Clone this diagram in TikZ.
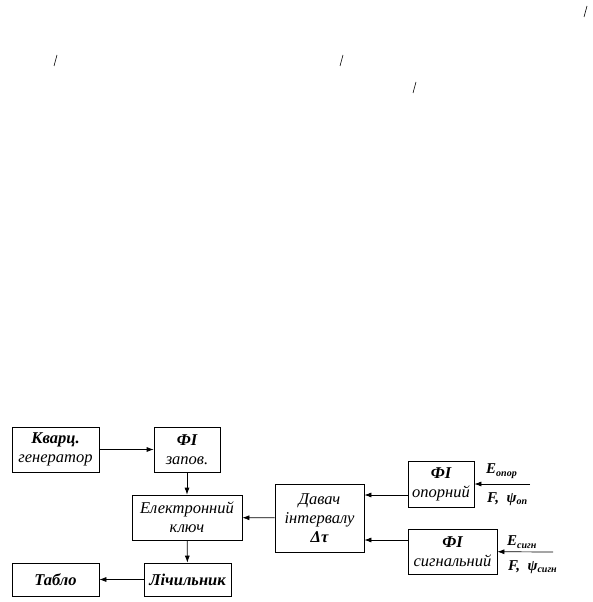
\documentclass[tikz,border=0pt]{standalone}
\usepackage{fontspec}
\setmainfont{Liberation Serif}
\usetikzlibrary{arrows.meta}
\newcommand{\lowsub}[1]{\raisebox{-2.5pt}{\fontsize{10}{11}\selectfont #1}}
\begin{document}
\begin{tikzpicture}[
    x=1pt, y=-1pt, >={Latex[length=7pt,width=5pt]},
    blk/.style={draw, line width=0.7pt, align=center, inner sep=1pt,
                font=\fontsize{16.5}{19}\selectfont\itshape},
    lbl/.style={anchor=west, inner sep=0pt, font=\fontsize{15}{17}\selectfont\bfseries\itshape},
    link/.style={->, line width=0.7pt}]
  \useasboundingbox (0,0) rectangle (592,602);
  % stray marks at the top of the page
  \draw[line width=0.6pt] (54,66) -- (57,55);
  \draw[line width=0.6pt] (340,66) -- (343,55);
  \draw[line width=0.6pt] (413,93) -- (416,82);
  \draw[line width=0.6pt] (584,17) -- (587,6);
  % left column
  \node[blk, minimum width=87, minimum height=45] (kvarc) at (55.5,449.5) {\textbf{Кварц.}\\генератор};
  \node[blk, minimum width=66, minimum height=45] (fizap) at (187,449.5) {\textbf{ФІ}\\запов.};
  \node[blk, minimum width=110, minimum height=45] (kluch) at (187,517.5) {Електронний\\ключ};
  \node[blk, minimum width=87, minimum height=33] (tablo) at (55.5,579.5) {\textbf{Табло}};
  \node[blk, minimum width=87, minimum height=33] (lich) at (187.5,579.5) {\textbf{Лічильник}};
  % right part
  \node[blk, minimum width=89, minimum height=68] (davach) at (319.5,518) {Давач\\інтервалу\\\textbf{Δτ}};
  \node[blk, minimum width=66, minimum height=46] (fiop) at (441,484) {\textbf{ФІ}\\опорний};
  \node[blk, minimum width=89, minimum height=45] (fisig) at (452.5,551.5) {\textbf{ФІ}\\сигнальний};
  % inputs
  \coordinate (inop) at (530,484);
  \coordinate (insig) at (553,552);
  \node[lbl] (eop) at (486,471) {E\lowsub{опор}};
  \node[lbl] (fop) at (487,499) {F, \ ψ\lowsub{оп}};
  \node[lbl] (esig) at (507,542) {E\lowsub{сигн}};
  \node[lbl] (fsig) at (508,567) {F, \ ψ\lowsub{сигн}};
  \draw[link] (kvarc) -- (fizap);
  \draw[link] (fizap) -- (kluch);
  \draw[link] (kluch) -- (lich);
  \draw[link] (lich) -- (tablo);
  \draw[link] (davach) -- (kluch);
  \draw[link] ([yshift=-11]fiop.west) -- ([yshift=-11]fiop.west -| davach.east);
  \draw[link] ([yshift=11.5]fisig.west) -- ([yshift=11.5]fisig.west -| davach.east);
  \draw[link] (inop) -- (fiop);
  \draw[link] (insig) -- (fisig);
\end{tikzpicture}
\end{document}
